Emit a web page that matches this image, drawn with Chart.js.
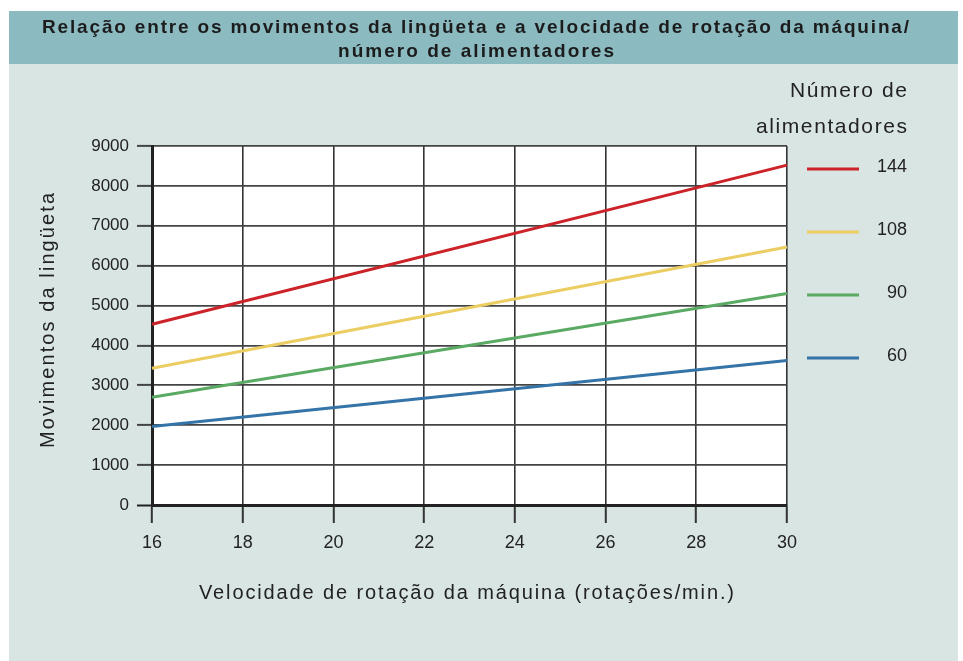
<!DOCTYPE html>
<html>
<head>
<script src="https://cdn.jsdelivr.net/npm/chart.js"></script>
<style>
  body { margin: 0; background: #fff; }
  #wrap { width: 963px; height: 661px; }
</style>
</head>
<body>
<div id="wrap"><canvas id="chart" width="963" height="661"></canvas></div>
<script>
// values (movimentos at 16 and 30 rot/min)
const speeds = [16, 30];
const feeders = ['144', '108', '90', '60'];
const moves144 = [4530, 8520];
const moves108 = [3430, 6470];
const moves90 = [2700, 5300];
const moves60 = [1970, 3620];
const xTicks = [16, 18, 20, 22, 24, 26, 28, 30];
const yTicks = [0, 1000, 2000, 3000, 4000, 5000, 6000, 7000, 8000, 9000];
const lineColors = ['#cc2229', '#ebcd62', '#5baa64', '#3574a8'];

const titleLines = ['Relação entre os movimentos da lingüeta e a velocidade de rotação da máquina/', 'número de alimentadores'];
const xTitle = 'Velocidade de rotação da máquina (rotações/min.)';
const yTitle = 'Movimentos da lingüeta';
const legendTitle = ['Número de', 'alimentadores'];

const FONT = '"Liberation Sans", Arial, Helvetica, sans-serif';

// draw text stretched with letter spacing to a given width, starting at x
function spaced(ctx, text, x, y, width) {
    ctx.letterSpacing = '0px';
    const w = ctx.measureText(text).width;
    const gap = (width - w) / (text.length - 1);
    ctx.letterSpacing = gap + 'px';
    ctx.textAlign = 'left';
    ctx.fillText(text, x, y);
    ctx.letterSpacing = '0px';
}

const framePlugin = {
    id: 'frame',
    beforeDraw(chart) {
        const { ctx, chartArea: a } = chart;
        ctx.save();
        ctx.fillStyle = '#ffffff';
        ctx.fillRect(0, 0, chart.width, chart.height);
        ctx.fillStyle = '#d8e5e3';
        ctx.fillRect(9, 11, 949, 650);
        ctx.fillStyle = '#8bbac1';
        ctx.fillRect(9, 11, 949, 53);
        ctx.fillStyle = '#ffffff';
        ctx.fillRect(a.left, a.top, a.right - a.left, a.bottom - a.top);
        ctx.restore();
    },
    afterDraw(chart) {
        const ctx = chart.ctx;
        ctx.save();
        ctx.textBaseline = 'alphabetic';

        // header
        ctx.fillStyle = '#1c1c1c';
        ctx.font = 'bold 19px ' + FONT;
        spaced(ctx, titleLines[0], 42, 32.5, 867);
        spaced(ctx, titleLines[1], 338, 56.5, 276);

        // axis titles
        ctx.fillStyle = '#222';
        ctx.font = '20px ' + FONT;
        spaced(ctx, xTitle, 199, 599, 535);
        ctx.save();
        ctx.translate(54, 448);
        ctx.rotate(-Math.PI / 2);
        spaced(ctx, yTitle, 0, 0, 255);
        ctx.restore();

        // legend
        ctx.font = '21px ' + FONT;
        spaced(ctx, legendTitle[0], 907 - 117, 97, 117);
        spaced(ctx, legendTitle[1], 907 - 151, 133, 151);

        ctx.font = '18px ' + FONT;
        ctx.textAlign = 'right';
        ctx.textBaseline = 'middle';
        chart.data.datasets.forEach((ds, i) => {
            const y = 169 + i * 63;
            ctx.strokeStyle = ds.borderColor;
            ctx.lineWidth = 3;
            ctx.beginPath();
            ctx.moveTo(807, y);
            ctx.lineTo(859, y);
            ctx.stroke();
            ctx.fillText(ds.label, 907, y - 2);
        });
        ctx.restore();
    }
};

const seriesValues = [moves144, moves108, moves90, moves60];

new Chart(document.getElementById('chart'), {
    type: 'line',
    data: {
        datasets: feeders.map((f, i) => ({
            label: f,
            data: speeds.map((s, j) => ({ x: s, y: seriesValues[i][j] })),
            borderColor: lineColors[i],
            backgroundColor: lineColors[i],
            borderWidth: 3,
            pointRadius: 0,
            tension: 0,
            clip: 4
        }))
    },
    options: {
        responsive: false,
        animation: false,
        layout: { padding: { top: 146, right: 176, left: 0, bottom: 0 } },
        plugins: {
            legend: { display: false },
            tooltip: { enabled: false }
        },
        scales: {
            x: {
                type: 'linear',
                min: 16,
                max: 30,
                afterBuildTicks: s => { s.ticks = xTicks.map(v => ({ value: v })); },
                afterFit: s => { s.height = 156; },
                ticks: { font: { family: FONT, size: 18 }, color: '#222', padding: 9, callback: v => String(v) },
                grid: { color: '#333', lineWidth: 1.6, tickLength: 18, tickWidth: 2 },
                border: { display: true, width: 3, color: '#222' }
            },
            y: {
                min: 0,
                max: 9000,
                afterBuildTicks: s => { s.ticks = yTicks.map(v => ({ value: v })); },
                afterFit: s => { s.width = 152; },
                ticks: { font: { family: FONT, size: 17 }, color: '#222', padding: 8, callback: v => String(v) },
                grid: {
                    color: ctx => ctx.tick && ctx.tick.value === 0 ? '#222' : '#444',
                    lineWidth: ctx => ctx.tick && ctx.tick.value === 0 ? 3 : 1.8,
                    tickLength: 15,
                    tickWidth: 2
                },
                border: { display: true, width: 3, color: '#222' }
            }
        }
    },
    plugins: [framePlugin]
});
</script>
</body>
</html>
